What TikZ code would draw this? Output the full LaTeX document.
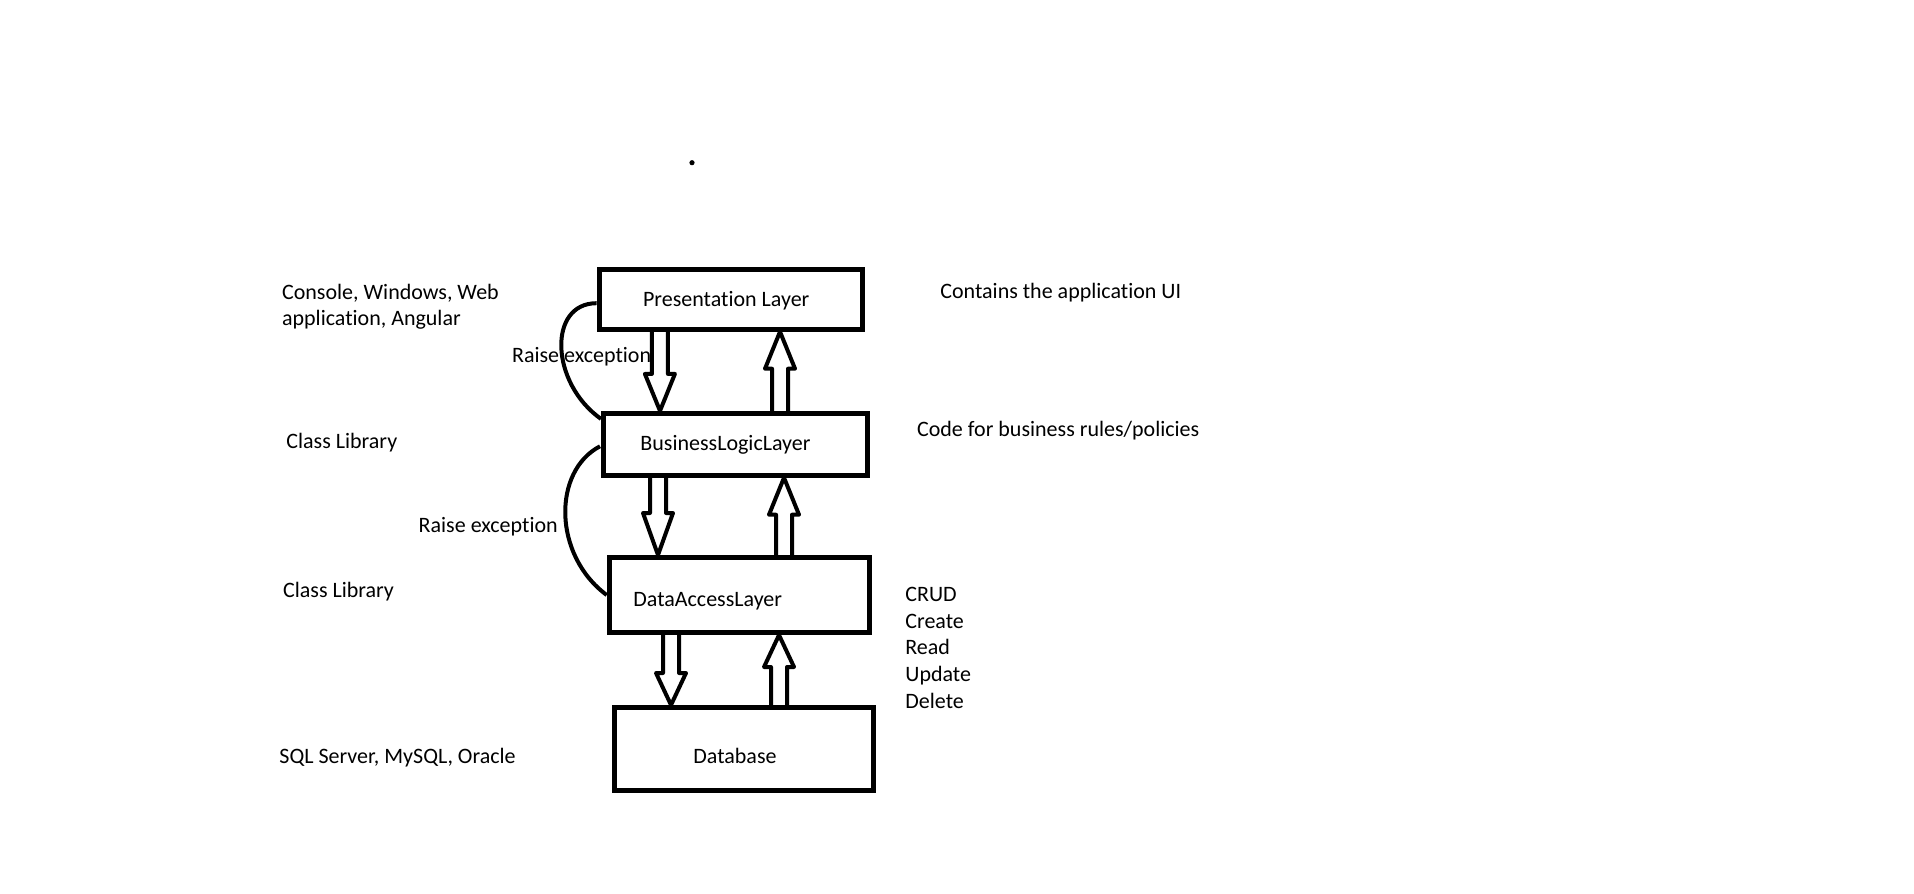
\documentclass[tikz,border=0pt]{standalone}
\usepackage{fontspec}
\setmainfont{Carlito}[Ligatures=NoCommon]
\usetikzlibrary{calc}

\tikzset{
  layerbox/.style={draw, line width=2.5pt, inner sep=0pt},
  note/.style={anchor=base west, inner sep=0pt, align=left, font=\fontsize{11}{13.3}\selectfont},
  arrowline/.style={line width=2pt, line join=round},
  raiseline/.style={line width=2pt}
}
% hollow block arrow from #2 to #3, head length #1
\newcommand{\layerarrow}[3][18.5pt]{%
  \coordinate (s) at (#2);
  \coordinate (t) at (#3);
  \coordinate (h) at ($(t)!#1!(s)$);
  \draw[arrowline] ($(s)!4pt!90:(t)$) -- ($(h)!4pt!90:(t)$) -- ($(h)!7.5pt!90:(t)$) -- (t)
    -- ($(h)!7.5pt!-90:(t)$) -- ($(h)!4pt!-90:(t)$) -- ($(s)!4pt!-90:(t)$);
}

\begin{document}
\begin{tikzpicture}[x=0.5pt, y=-0.5pt]
\useasboundingbox (0,0) rectangle (1914,893);
  \fill (692,162.7) circle (1.3pt);
  % layers
  \node (pres) [layerbox, minimum width=131.7pt, minimum height=30pt] at (730.8,299.2) {};
  \node (bll) [layerbox, minimum width=132pt, minimum height=30.9pt] at (735.5,444.3) {};
  \node (dal) [layerbox, minimum width=130pt, minimum height=37.5pt] at (739.2,595) {};
  \node (db) [layerbox, minimum width=129.7pt, minimum height=41.5pt] at (743.8,749) {};
  \node (prestext) [note] at (642.7,306.7) {Presentation Layer};
  \node (blltext) [note] at (640,450) {BusinessLogicLayer};
  \node (daltext) [note] at (633,606.7) {DataAccessLayer};
  \node (dbtext) [note] at (693,763) {Database};
  % calls down, results up
  \layerarrow{$(pres.south)+(-71,0)$}{$(bll.north)+(-75.5,0)$}
  \layerarrow{$(bll.north)+(44.5,0)$}{$(pres.south)+(49.2,0)$}
  \layerarrow[21pt]{$(bll.south)+(-77.5,0)$}{$(dal.north)+(-81.2,0)$}
  \layerarrow{$(dal.north)+(44.8,0)$}{$(bll.south)+(48.5,0)$}
  \layerarrow[16pt]{$(dal.south)+(-68.2,0)$}{$(db.north)+(-72.8,0)$}
  \layerarrow[16pt]{$(db.north)+(35.2,0)$}{$(dal.south)+(39.8,0)$}
  % exceptions
  \draw[raiseline] ($(pres.west)+(0,4)$) .. controls +(-49,0) and +(-51,-36) .. ($(bll.north west)+(0,8)$);
  \draw[raiseline] ($(bll.west)+(-1,2)$) .. controls +(-47.5,24.7) and +(-54,-40) .. (dal.west);
  \node (raise1) [note] at (511.7,362.7) {Raise exception};
  \node (raise2) [note] at (418.3,532.7) {Raise exception};
  % left notes
  \node (ui) [note] at (281.7,325.6) {Console, Windows, Web\\application, Angular};
  \node (lib1) [note] at (286,448) {Class Library};
  \node (lib2) [note] at (282.7,597) {Class Library};
  \node (dbms) [note] at (279,763) {SQL Server, MySQL, Oracle};
  % right notes
  \node (presnote) [note] at (940,298.3) {Contains the application UI};
  \node (bllnote) [note] at (916.7,436) {Code for business rules/policies};
  \node (crud) [note] at (905,708) {CRUD\\Create\\Read\\Update\\Delete};
\end{tikzpicture}
\end{document}
